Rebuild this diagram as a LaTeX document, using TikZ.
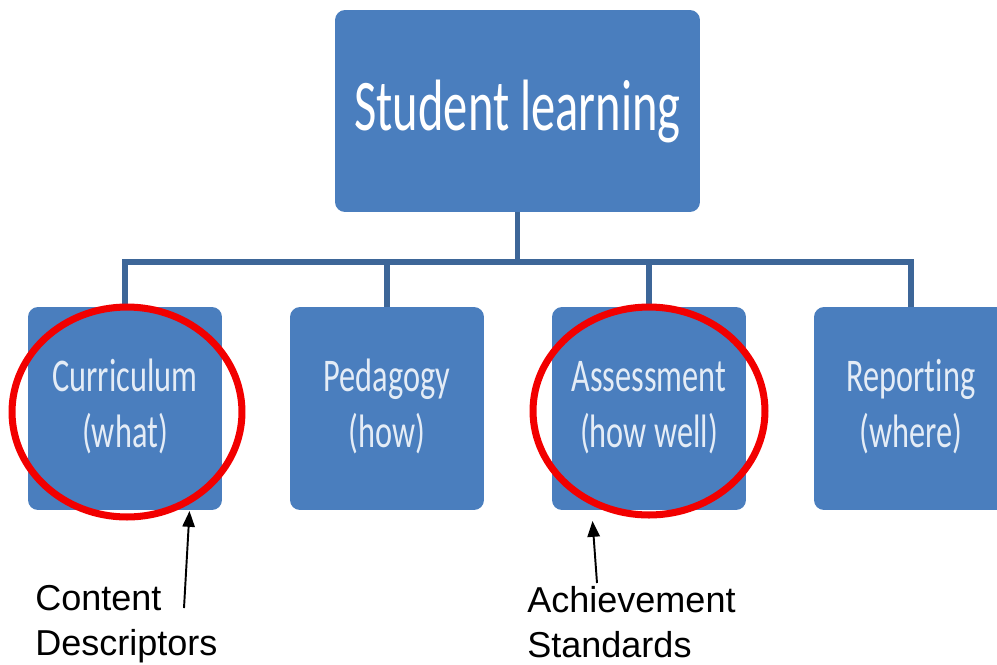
\documentclass[tikz,border=0pt]{standalone}
\usepackage{fontspec}
\setmainfont{Liberation Sans}
\newfontfamily\boxfont[Ligatures=NoCommon]{Carlito}
\usetikzlibrary{arrows.meta,shapes.geometric}
\definecolor{boxblue}{HTML}{4A7EBE}
\definecolor{linkblue}{HTML}{3D6698}
\definecolor{boxtext}{HTML}{E4ECF6}
\definecolor{ringred}{HTML}{F20000}
\begin{document}
\begin{tikzpicture}[x=0.02cm,y=-0.02cm,
  topbox/.style={fill=boxblue,rounded corners=0.2cm,minimum width=7.3cm,minimum height=4.04cm,
    text=white,font=\boxfont\fontsize{27.6}{30}\selectfont,inner sep=0pt},
  subbox/.style={fill=boxblue,rounded corners=0.2cm,minimum width=3.88cm,minimum height=4.06cm,
    text=boxtext,font=\boxfont\fontsize{18.4}{21.9}\selectfont,inner sep=0pt},
  link/.style={draw=linkblue,line width=3.4pt},
  ring/.style={ellipse,draw=ringred,line width=4pt,inner sep=0pt},
  pointer/.style={draw=black,line width=1.1pt,-{Triangle[length=9pt,width=7pt]}},
  note/.style={font=\fontsize{20.5}{25.5}\selectfont,align=left,inner sep=0pt,anchor=base west}
]
\useasboundingbox (0,0) rectangle (997,664);
\begin{scope}
\clip (0,0) rectangle (997,664);
% boxes
\node[topbox] (top) at (517.5,111) {\scalebox{1}[1.5]{Student learning}};
\node[subbox] (cur) at (125,408.5) {\scalebox{1}[1.45]{\begin{tabular}{@{}c@{}}Curriculum\\(what)\end{tabular}}};
\node[subbox] (ped) at (387,408.5) {\scalebox{1}[1.45]{\begin{tabular}{@{}c@{}}Pedagogy\\(how)\end{tabular}}};
\node[subbox] (ass) at (649,408.5) {\scalebox{1}[1.45]{\begin{tabular}{@{}c@{}}Assessment\\(how well)\end{tabular}}};
\node[subbox] (rep) at (911,408.5) {\scalebox{1}[1.45]{\begin{tabular}{@{}c@{}}Reporting\\(where)\end{tabular}}};
% tree connectors
\coordinate (j) at (517.5,262);
\draw[link] (top.south) -- (j);
\draw[link] (cur.north) |- (j) -| (rep.north);
\draw[link] (ped.north) -- (ped.north |- j);
\draw[link] (ass.north) -- (ass.north |- j);
% red rings
\node[ring,minimum width=4.6cm,minimum height=4.2cm] (ring1) at (127,412) {};
\node[ring,minimum width=4.64cm,minimum height=4.16cm] (ring2) at (649,411) {};
% annotations (anchored at the baseline of the last line)
\node[note] (cd) at (35,655) {Content\\Descriptors};
\node[note] (as) at (527,657) {Achievement\\Standards};
\coordinate (t1) at (184,608);
\coordinate (h1) at (189.5,511);
\coordinate (t2) at (597,583);
\coordinate (h2) at (592.5,521);
\draw[pointer] (t1) -- (h1);
\draw[pointer] (t2) -- (h2);
\end{scope}
\end{tikzpicture}
\end{document}
